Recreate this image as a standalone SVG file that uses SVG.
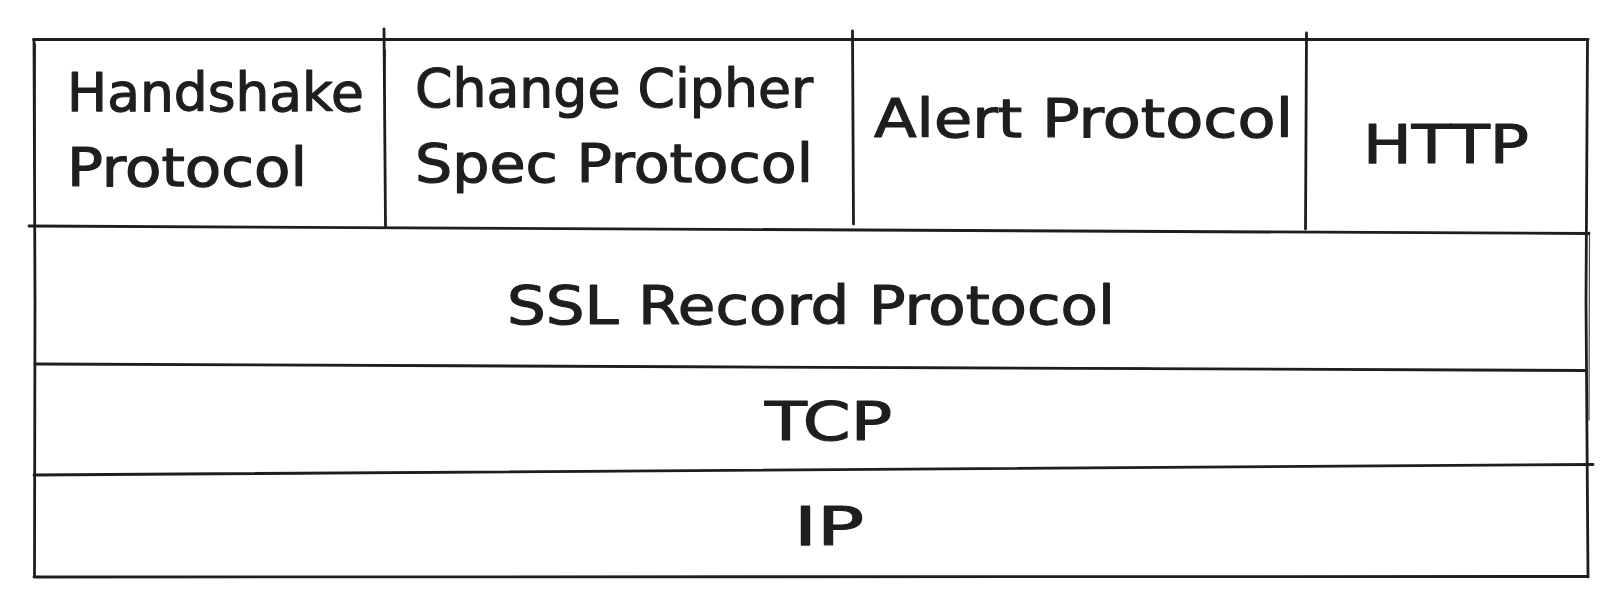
<svg xmlns="http://www.w3.org/2000/svg" width="1622" height="607" viewBox="0 0 1622 607">
<style>
.ln{fill:none;stroke:#1e1e1e;stroke-width:2.8;stroke-linecap:round;stroke-linejoin:round}
.ln2{fill:none;stroke:#1e1e1e;stroke-width:1.2;stroke-linecap:round;opacity:0.8}
.t{font-family:"DejaVu Sans","Liberation Sans",sans-serif;font-size:53px;fill:#1e1e1e;stroke:#1e1e1e;stroke-width:1.2;stroke-linejoin:round}
</style>
<rect width="1622" height="607" fill="#ffffff"/>
<g id="grid">
  <!-- outer frame -->
  <path class="ln" d="M33.5 39.5 L1588 39.5"/>
  <path class="ln" d="M34 40 L35 300 L34.5 576.5"/>
  <path class="ln2" d="M35.5 44 L34.5 300"/>
  <path class="ln" d="M34 577 L1588 576.5"/>
  <path class="ln" d="M1587.5 39.5 L1586 300 L1588 577"/>
  <path class="ln2" d="M1589.5 232 L1589 420"/>
  <!-- row separators -->
  <path class="ln" d="M29 226 L1589 233.5"/>
  <path class="ln" d="M35 364 L1586 370.5"/>
  <path class="ln2" d="M370 365 L1150 368"/>
  <path class="ln" d="M34 475 L1593 464.5"/>
  <path class="ln2" d="M240 474 L700 471"/>
  <!-- column separators -->
  <path class="ln" d="M384 29 L385.5 227"/>
  <path class="ln2" d="M385.5 50 L384.5 118"/>
  <path class="ln" d="M852.5 31 L853.5 224"/>
  <path class="ln" d="M1306.5 33 L1305.5 229"/>
</g>
<g id="handshake">
  <text class="t" x="67" y="111" textLength="297" lengthAdjust="spacingAndGlyphs">Handshake</text>
  <text class="t" x="67" y="186" textLength="240" lengthAdjust="spacingAndGlyphs">Protocol</text>
</g>
<g id="change-cipher-spec">
  <text class="t" x="415" y="107" textLength="398" lengthAdjust="spacingAndGlyphs">Change Cipher</text>
  <text class="t" x="415" y="182" textLength="398" lengthAdjust="spacingAndGlyphs">Spec Protocol</text>
</g>
<g id="alert">
  <text class="t" x="874" y="137" textLength="419" lengthAdjust="spacingAndGlyphs">Alert Protocol</text>
</g>
<g id="http">
  <text class="t" x="1363" y="163" textLength="166" lengthAdjust="spacingAndGlyphs">HTTP</text>
</g>
<g id="ssl-record">
  <text class="t" x="507" y="324" textLength="608" lengthAdjust="spacingAndGlyphs">SSL Record Protocol</text>
</g>
<g id="tcp">
  <text class="t" x="765" y="440" textLength="127" lengthAdjust="spacingAndGlyphs">TCP</text>
</g>
<g id="ip">
  <text class="t" x="794" y="545" textLength="70" lengthAdjust="spacingAndGlyphs">IP</text>
</g>
</svg>
